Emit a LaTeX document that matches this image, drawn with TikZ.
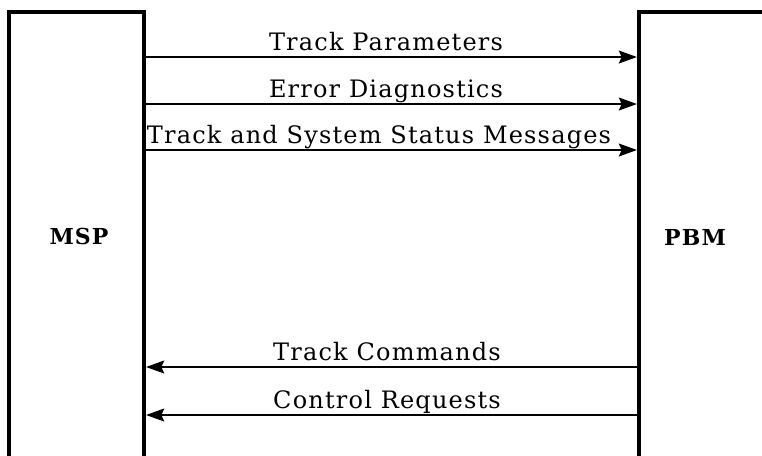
\documentclass[tikz,border=0pt]{standalone}
\usepackage{fontspec}
\setmainfont{DejaVu Serif}[LetterSpace=5]
\usetikzlibrary{arrows.meta}
\begin{document}
\begin{tikzpicture}[x=0.75pt, y=-0.75pt, line join=miter,
  unit/.style={draw, line width=3pt, inner sep=0pt},
  unitlbl/.style={font=\fontsize{16.5}{20}\selectfont\bfseries},
  msg/.style={anchor=south, inner sep=2.5pt, text depth=0.22em, font=\fontsize{18}{22}\selectfont},
  flow/.style={line width=2.2pt, -{Stealth[length=13.5pt,width=9.5pt,inset=2pt]}}]
  \useasboundingbox (0,0) rectangle (762,455);
  \clip (0,0) rectangle (762,455);
  % las dos unidades, abiertas por abajo
  \node[unit, minimum width=101.25pt, minimum height=351pt] (msp) at (76.5,246) {};
  \node[unit, minimum width=120.75pt, minimum height=351pt] (pbm) at (719.5,246) {};
  \node[unitlbl] (msplbl) at (79,236) {MSP};
  \node[unitlbl] (pbmlbl) at (695,237) {PBM};
  % mensajes hacia PBM
  \node[msg] (tp) at (386,57) {Track Parameters};
  \node[msg] (ed) at (386,104) {Error Diagnostics};
  \node[msg] (ts) at (379,150) {Track and System Status Messages};
  \foreach \m in {tp,ed,ts}
    \draw[flow] (msp.east |- \m.south) -- (pbm.west |- \m.south);
  % mensajes hacia MSP
  \node[msg] (tc) at (387,367) {Track Commands};
  \node[msg] (cr) at (387,415) {Control Requests};
  \foreach \m in {tc,cr}
    \draw[flow] (pbm.west |- \m.south) -- (msp.east |- \m.south);
\end{tikzpicture}
\end{document}
